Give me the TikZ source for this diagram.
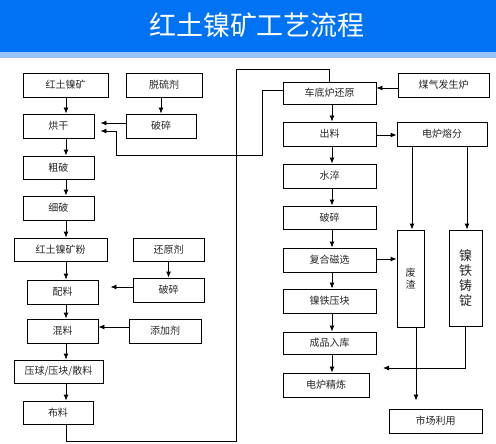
\documentclass[tikz,border=0pt]{standalone}
\usepackage{fontspec}
\setmainfont{Noto Sans CJK SC}
\usetikzlibrary{arrows.meta}
\definecolor{titleblue}{RGB}{0,115,245}
\definecolor{stripblue}{RGB}{150,196,246}
\tikzset{
  box/.style={draw, line width=0.9pt, inner sep=0pt, font=\fontsize{10}{12}\selectfont, text=black!85},
  arr/.style={line width=0.9pt, -{Latex[length=6pt,width=5pt]}},
  ln/.style={line width=0.9pt},
}
\begin{document}
\begin{tikzpicture}[x=1pt,y=-1pt]
\useasboundingbox (0,0) rectangle (496,444);
\fill[titleblue] (0,0) rectangle (496,52);
\fill[stripblue] (0,52) rectangle (496,58);
\node[text=white, font=\fontsize{27}{30}\selectfont] (title) at (257,25) {红土镍矿工艺流程};

% left column
\node[box, minimum width=85pt, minimum height=24pt] (hn) at (65.5,85) {红土镍矿};
\node[box, minimum width=76pt, minimum height=24pt] (tlj) at (164,85) {脱硫剂};
\node[box, minimum width=71pt, minimum height=24pt] (hg) at (58.5,126) {烘干};
\node[box, minimum width=70pt, minimum height=24pt] (ps1) at (161,126) {破碎};
\node[box, minimum width=71pt, minimum height=23pt] (cp) at (58.5,167.5) {粗破};
\node[box, minimum width=71pt, minimum height=24pt] (xp) at (58.5,208) {细破};
\node[box, minimum width=93pt, minimum height=23pt] (fen) at (60.5,249.5) {红土镍矿粉};
\node[box, minimum width=71pt, minimum height=23pt] (hyj) at (168.5,249.5) {还原剂};
\node[box, minimum width=71pt, minimum height=24pt] (pl) at (62.5,292) {配料};
\node[box, minimum width=71pt, minimum height=24pt] (ps2) at (168.5,290) {破碎};
\node[box, minimum width=71pt, minimum height=24pt] (hl) at (62.5,331) {混料};
\node[box, minimum width=72pt, minimum height=24pt] (tjj) at (165,331) {添加剂};
\node[box, minimum width=89pt, minimum height=23pt] (yq) at (58.5,371.5) {压球/压块/散料};
\node[box, minimum width=70pt, minimum height=23pt] (bl) at (58,412.5) {布料};

% right column
\node[box, minimum width=93pt, minimum height=22pt] (cd) at (329.5,93) {车底炉还原};
\node[box, minimum width=91pt, minimum height=24pt] (mq) at (443.5,85) {煤气发生炉};
\node[box, minimum width=93pt, minimum height=24pt] (cl) at (329.5,134) {出料};
\node[box, minimum width=90pt, minimum height=24pt] (dl) at (442,134) {电炉熔分};
\node[box, minimum width=93pt, minimum height=24pt] (sc) at (329.5,176) {水淬};
\node[box, minimum width=93pt, minimum height=23pt] (ps3) at (329.5,217.5) {破碎};
\node[box, minimum width=93pt, minimum height=24pt] (fh) at (329.5,260) {复合磁选};
\node[box, minimum width=93pt, minimum height=24pt] (ny) at (329.5,301) {镍铁压块};
\node[box, minimum width=93pt, minimum height=22pt] (cp2) at (329.5,343) {成品入库};
\node[box, minimum width=86pt, minimum height=24pt] (jl) at (326,385) {电炉精炼};
\node[box, minimum width=27pt, minimum height=97pt, align=center] (fz) at (410.5,278.5) {废\\渣};
\node[box, minimum width=33pt, minimum height=96pt, align=center, font=\fontsize{13}{15}\selectfont] (nt) at (465.5,278) {镍\\铁\\铸\\锭};
\node[box, minimum width=93pt, minimum height=24pt] (sy) at (435.5,421) {市场利用};

\coordinate (lx) at (66,0);
\coordinate (rx) at (332,0);
\coordinate (fzx) at (416,0);
\coordinate (nte) at (383,368);

% left connectors
\draw[arr] (hn.south -| lx) -- (hg.north -| lx);
\draw[arr] (hg.south -| lx) -- (cp.north -| lx);
\draw[arr] (cp.south -| lx) -- (xp.north -| lx);
\draw[arr] (xp.south -| lx) -- (fen.north -| lx);
\draw[arr] (fen.south -| lx) -- (pl.north -| lx);
\draw[arr] (pl.south -| lx) -- (hl.north -| lx);
\draw[arr] (hl.south -| lx) -- (yq.north -| lx);
\draw[arr] (yq.south -| lx) -- (bl.north -| lx);
\draw[arr] (ps1.north |- tlj.south) -- (ps1.north);
\draw[arr, shorten >=6pt] ([yshift=3pt]ps1.west) -- ([yshift=3pt]ps1.west -| hg.east);
\draw[arr] (hyj.south) -- (ps2.north);
\draw[arr, shorten >=12pt] ([yshift=3pt]ps2.west) -- ([yshift=3pt]ps2.west -| pl.east);
\draw[arr] ([yshift=4pt]tjj.west) -- ([yshift=4pt]tjj.west -| hl.east);

% loops
\draw[ln] (bl.south -| lx) |- (236,441) |- (cd.north |- 0,69) -- (cd.north);
\draw[arr, shorten >=6pt] ([yshift=3pt]cd.west) -| (262,155) -| (116,131) -- ([yshift=-5pt]hg.east);

% right connectors
\draw[arr] (cd.south -| rx) -- (cl.north -| rx);
\draw[arr] (cl.south -| rx) -- (sc.north -| rx);
\draw[arr] (sc.south -| rx) -- (ps3.north -| rx);
\draw[arr] (ps3.south -| rx) -- (fh.north -| rx);
\draw[arr] (fh.south -| rx) -- (ny.north -| rx);
\draw[arr] (ny.south -| rx) -- (cp2.north -| rx);
\draw[arr] (cp2.south -| rx) -- (jl.north -| rx);
\draw[arr] ([yshift=-3pt]mq.west) -- ([yshift=-3pt]mq.west -| cd.east);
\draw[arr] ([yshift=-1pt]cl.east) -- ([yshift=-1pt]cl.east -| dl.west);
\draw[arr] ([xshift=1.5pt]dl.south -| fz.north) -- ([xshift=1.5pt]fz.north);
\draw[arr] ([xshift=1.5pt]dl.south -| nt.north) -- ([xshift=1.5pt]nt.north);
\draw[arr] ([yshift=1pt]fh.east) -- ([yshift=1pt]fh.east -| fz.west);
\draw[arr] (nt.south) |- (nte);
\draw[arr, shorten >=8pt] (fz.south -| fzx) -- (sy.north -| fzx);
\end{tikzpicture}
\end{document}
